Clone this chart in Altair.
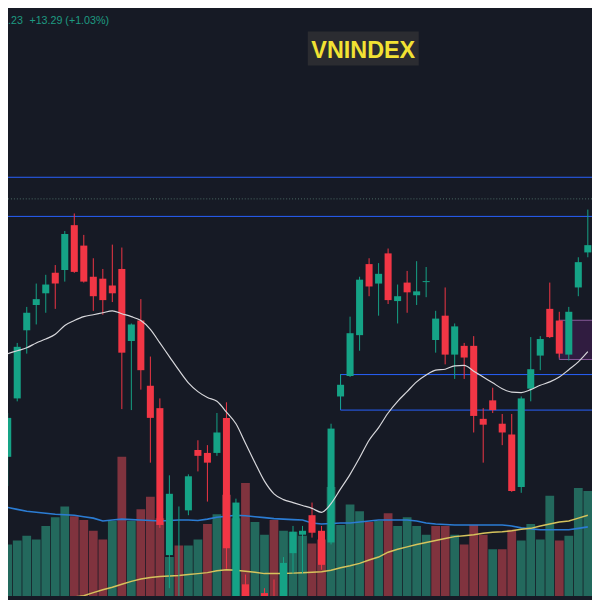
import altair as alt
import pandas as pd
import numpy as np

# ---------------- data ----------------
idx = list(range(62))
opens = [1194.5, 1224.5, 1259.5, 1272.5, 1278.5, 1289, 1290.5, 1313.5, 1303, 1287, 1286, 1282.5,
         1291, 1254, 1264.5, 1231, 1219.5, 1144, 1113, 1167, 1198, 1196.5, 1196.5, 1214.5, 1118,
         1129, 1117, 1124.5, 1120.5, 1118, 1145, 1154.5, 1164.5, 1156.5, 1150.5, 1225.5, 1236,
         1257, 1293.5, 1283.5, 1299, 1274.5, 1284, 1277.5, 1284.25, 1254.5, 1267, 1247, 1251.5,
         1251.5, 1214, 1223.5, 1211.5, 1206, 1179, 1229.5, 1246.5, 1270.5, 1264.5, 1247, 1281.5,
         1299.5]
highs = [1217, 1253, 1271.5, 1283.5, 1288, 1293, 1310.5, 1319.5, 1308.5, 1296.5, 1291, 1303.5,
         1302, 1263, 1275.5, 1246, 1224.5, 1185, 1169, 1185.5, 1203, 1200.5, 1217, 1222.5, 1173,
         1134, 1121, 1127, 1131.5, 1143, 1159, 1159, 1171, 1159, 1211.5, 1237, 1266.5, 1287,
         1296.5, 1294, 1301.5, 1283, 1290, 1295, 1292, 1269.5, 1281.5, 1263, 1253, 1256.5, 1219.5,
         1230, 1216.5, 1216.5, 1225.5, 1256, 1256.5, 1284, 1269, 1271.5, 1297, 1321.5]
lows = [1179.5, 1223, 1247.5, 1262.5, 1268.5, 1270.5, 1284.5, 1289, 1284, 1269.5, 1267.5, 1274,
        1219, 1218.5, 1229, 1191.5, 1158, 1127, 1110.5, 1164.5, 1187, 1171.5, 1195, 1137, 1115.5,
        1117, 1108, 1115.5, 1113, 1115.5, 1134.5, 1134.5, 1153, 1136.5, 1149.5, 1219, 1235.5,
        1249, 1277, 1267, 1273, 1263, 1268.5, 1272.5, 1276.5, 1248, 1242, 1234.5, 1234.5, 1207,
        1191.5, 1217, 1200.5, 1176.5, 1176, 1223, 1239, 1255.5, 1245.5, 1244, 1277, 1297]
closes = [1214.5, 1251, 1268.5, 1275.5, 1283, 1283.5, 1309, 1289.5, 1284.5, 1277, 1275, 1278.5,
          1248, 1262.5, 1239, 1214.5, 1159.5, 1175.5, 1119, 1184.5, 1195, 1191.5, 1207, 1147.5,
          1171, 1120.5, 1110.5, 1118, 1115.5, 1140, 1156, 1156.5, 1155.5, 1139, 1209, 1231.5,
          1258, 1285.5, 1282, 1288.5, 1275, 1277, 1279, 1279.5, 1284.75, 1265.5, 1247, 1261.5,
          1245.5, 1215.5, 1211, 1218.5, 1207, 1177, 1224.5, 1239.5, 1255, 1256, 1247.5, 1269,
          1294.5, 1303.23]
ma20 = [1247.5, 1249, 1250.5, 1253, 1255, 1257.5, 1262, 1264.5, 1266.5, 1267.5, 1268.5, 1269.5,
        1268, 1266.5, 1264.5, 1260, 1253, 1246, 1239, 1232.5, 1228, 1225, 1223, 1217.5, 1211.5,
        1201.5, 1191.5, 1182, 1175.5, 1172.5, 1171, 1169.5, 1168, 1166, 1170.5, 1178, 1185.5,
        1194, 1203, 1209.5, 1217, 1223, 1228, 1233, 1236.5, 1239, 1239.5, 1241.25, 1241.5,
        1238.5, 1235.5, 1232.5, 1229.5, 1227.75, 1227.5, 1229, 1231.25, 1233, 1235.5, 1239.25,
        1243.25, 1248.5]
volume = [618, 642, 672, 648, 732, 786, 852, 792, 768, 702, 648, 762, 1158, 762, 834, 912, 780,
          540, 612, 612, 648, 744, 804, 924, 780, 996, 756, 678, 768, 702, 696, 672, 624, 648,
          972, 738, 864, 822, 756, 762, 810, 732, 786, 732, 678, 732, 732, 678, 618, 738, 678,
          588, 588, 708, 642, 744, 648, 918, 642, 672, 966, 948]
vol_dir = ["up", "up", "up", "up", "up", "up", "up", "down", "down", "down", "down", "up",
           "down", "up", "down", "down", "down", "up", "down", "up", "up", "down", "up", "down",
           "up", "down", "up", "up", "down", "up", "up", "up", "down", "down", "up", "up", "up",
           "up", "down", "up", "down", "up", "up", "up", "up", "down", "down", "up", "down",
           "down", "down", "up", "down", "down", "up", "up", "up", "up", "down", "up", "up", "up"]
vol_ma_fast = [846, 834, 822, 816, 810, 804, 801, 798, 789, 780, 762, 768, 774, 771, 768, 765,
               762, 765, 768, 768, 765, 774, 786, 792, 798, 795, 789, 783, 777, 774, 771, 768,
               750, 744, 747, 750, 750, 756, 762, 768, 768, 768, 768, 762, 750, 744, 741, 738,
               738, 738, 738, 738, 738, 732, 720, 714, 708, 708, 708, 708, 717, 726]
vol_ma_slow = [150, 174, 198, 222, 240, 258, 276, 294, 302, 321, 339, 354, 372, 390, 405, 414,
               420, 423, 426, 432, 438, 444, 456, 462, 459, 453, 447, 438, 438, 438, 441, 444,
               447, 450, 459, 474, 486, 501, 522, 540, 570, 588, 603, 618, 630, 642, 654, 666,
               672, 678, 687, 693, 696, 702, 711, 717, 732, 744, 756, 762, 780, 798]

levels = [1338.1, 1318]
dotted_levels = [1327]
zone_names = ["blue", "purple"]
zone_start = [35, 58]
zone_end = [70, 70]
zone_top = [1236.75, 1264.65]
zone_bottom = [1218.5, 1244.5]

header_price = ".23"
header_change = "+13.29 (+1.03%)"
symbol = "VNINDEX"

# ---------------- styles ----------------
BG = "#161a25"
UP, DOWN = "#15a386", "#f23645"
VOL_UP, VOL_DOWN = "#23695d", "#80333e"
W = H = 592
S = W / 600.0

df = pd.DataFrame({"i": idx, "open": opens, "high": highs, "low": lows, "close": closes,
                   "ma20": ma20, "volume": volume, "vol_dir": vol_dir,
                   "vma_fast": vol_ma_fast, "vma_slow": vol_ma_slow})
df["dir"] = np.where(df["close"] >= df["open"], "up", "down")

xs = alt.Scale(domain=[0.03, 61.44])
ps = alt.Scale(domain=[1123, 1423])
vs = alt.Scale(domain=[300, 3900])

base = alt.Chart(df)

vol_bars = base.mark_rect(clip=True).transform_calculate(
    x0="datum.i - 0.46", x1="datum.i + 0.46", zero="0"
).encode(
    x=alt.X("x0:Q", scale=xs, axis=None), x2="x1:Q",
    y=alt.Y("volume:Q", scale=vs, axis=None), y2="zero:Q",
    color=alt.Color("vol_dir:N", scale=alt.Scale(domain=["up", "down"], range=[VOL_UP, VOL_DOWN]),
                    legend=None),
)

vma_fast = base.mark_line(clip=True, color="#2b7cd3", strokeWidth=1.6).encode(
    x=alt.X("i:Q", scale=xs, axis=None), y=alt.Y("vma_fast:Q", scale=vs, axis=None))
vma_slow = base.mark_line(clip=True, color="#d6c35c", strokeWidth=1.5).encode(
    x=alt.X("i:Q", scale=xs, axis=None), y=alt.Y("vma_slow:Q", scale=vs, axis=None))

lvl = alt.Chart(pd.DataFrame({"level": levels})).mark_rule(
    clip=True, color="#2962ff", strokeWidth=1).encode(y=alt.Y("level:Q", scale=ps, axis=None))
dlvl = alt.Chart(pd.DataFrame({"level": dotted_levels})).mark_rule(
    clip=True, color="#4d6e68", strokeWidth=1, strokeDash=[1, 2]).encode(
    y=alt.Y("level:Q", scale=ps, axis=None))

zones = pd.DataFrame({"name": zone_names, "start": zone_start, "end": zone_end,
                      "top": zone_top, "bottom": zone_bottom})
zone_blue = alt.Chart(zones[zones.name == "blue"]).mark_rect(
    clip=True, fillOpacity=0, stroke="#2962ff", strokeWidth=1).encode(
    x=alt.X("start:Q", scale=xs, axis=None), x2="end:Q",
    y=alt.Y("top:Q", scale=ps, axis=None), y2="bottom:Q")
zone_purple = alt.Chart(zones[zones.name == "purple"]).mark_rect(
    clip=True, fill="#9c27b0", fillOpacity=0.2, stroke="#8a5a9c", strokeWidth=1).encode(
    x=alt.X("start:Q", scale=xs, axis=None), x2="end:Q",
    y=alt.Y("top:Q", scale=ps, axis=None), y2="bottom:Q")

cscale = alt.Scale(domain=["up", "down"], range=[UP, DOWN])
wicks = base.mark_rule(clip=True, strokeWidth=1).encode(
    x=alt.X("i:Q", scale=xs, axis=None),
    y=alt.Y("low:Q", scale=ps, axis=None), y2="high:Q",
    color=alt.Color("dir:N", scale=cscale, legend=None))
bodies = base.mark_rect(clip=True).transform_calculate(
    x0="datum.i - 0.37", x1="datum.i + 0.37"
).encode(
    x=alt.X("x0:Q", scale=xs, axis=None), x2="x1:Q",
    y=alt.Y("open:Q", scale=ps, axis=None), y2="close:Q",
    color=alt.Color("dir:N", scale=cscale, legend=None))

ma_line = base.mark_line(clip=True, color="#d8d8dc", strokeWidth=1.2, interpolate="monotone").encode(
    x=alt.X("i:Q", scale=xs, axis=None), y=alt.Y("ma20:Q", scale=ps, axis=None))

title_box = alt.Chart(alt.Data(values=[{"t": symbol}])).mark_rect(color="#2b2c31").encode(
    x=alt.value(308 * S), x2=alt.value(422 * S), y=alt.value(20 * S), y2=alt.value(55 * S))
title_txt = alt.Chart(alt.Data(values=[{"t": symbol}])).mark_text(
    font="Liberation Sans", fontWeight="bold", fontSize=24 * S, color="#f2e233",
    align="center", baseline="alphabetic").encode(
    x=alt.value(365 * S), y=alt.value(47 * S), text="t:N")
hdr1 = alt.Chart(alt.Data(values=[{"t": header_price}])).mark_text(
    font="Liberation Sans", fontSize=11 * S, color="#1e9a82", align="left",
    baseline="alphabetic").encode(x=alt.value(0), y=alt.value(12 * S), text="t:N")
hdr2 = alt.Chart(alt.Data(values=[{"t": header_change}])).mark_text(
    font="Liberation Sans", fontSize=11 * S, color="#1e9a82", align="left",
    baseline="alphabetic").encode(x=alt.value(22 * S), y=alt.value(12 * S), text="t:N")

chart = alt.layer(
    vol_bars, vma_fast, vma_slow, lvl, dlvl, zone_purple, zone_blue,
    wicks, bodies, ma_line, title_box, title_txt, hdr1, hdr2
).resolve_scale(y="independent", color="independent").properties(
    width=W, height=H
).configure(background=BG, padding=0).configure_view(strokeWidth=0)

chart.save("out.html", embed_options={"renderer": "svg", "actions": False})
